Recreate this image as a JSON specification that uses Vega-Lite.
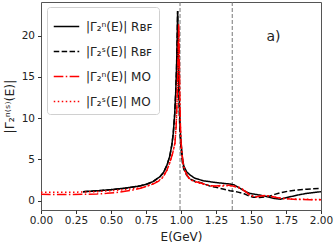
{
  "$schema": "https://vega.github.io/schema/vega-lite/v6.json",
  "width": 280,
  "height": 208,
  "autosize": {"type": "none"},
  "padding": {"left": 41, "top": 2, "right": 13, "bottom": 32},
  "config": {
    "font": "DejaVu Sans",
    "view": {"stroke": "#555", "strokeWidth": 1},
    "axis": {"grid": false, "domain": false, "tickColor": "#333", "tickSize": 3.5, "labelColor": "#222", "titleColor": "#222", "labelFontSize": 10.5, "titleFontSize": 12, "titleFontWeight": "normal", "labelFont": "DejaVu Sans", "titleFont": "DejaVu Sans"}
  },
  "datasets": {
    "curves": [
      {"E":0.30,"v":1.07,"s":"nR"},{"E":0.40,"v":1.18,"s":"nR"},{"E":0.50,"v":1.32,"s":"nR"},{"E":0.60,"v":1.50,"s":"nR"},{"E":0.70,"v":1.75,"s":"nR"},{"E":0.75,"v":1.95,"s":"nR"},{"E":0.80,"v":2.3,"s":"nR"},{"E":0.85,"v":2.9,"s":"nR"},{"E":0.875,"v":3.4,"s":"nR"},{"E":0.90,"v":4.3,"s":"nR"},{"E":0.92,"v":5.4,"s":"nR"},{"E":0.935,"v":6.8,"s":"nR"},{"E":0.945,"v":8.2,"s":"nR"},{"E":0.955,"v":10.5,"s":"nR"},{"E":0.962,"v":13,"s":"nR"},{"E":0.968,"v":16,"s":"nR"},{"E":0.972,"v":19,"s":"nR"},{"E":0.976,"v":23.0,"s":"nR"},{"E":0.980,"v":19,"s":"nR"},{"E":0.985,"v":14,"s":"nR"},{"E":0.990,"v":10.5,"s":"nR"},{"E":0.995,"v":8.5,"s":"nR"},{"E":1.000,"v":7.2,"s":"nR"},{"E":1.010,"v":5.2,"s":"nR"},{"E":1.020,"v":4.2,"s":"nR"},{"E":1.040,"v":3.5,"s":"nR"},{"E":1.064,"v":3.1,"s":"nR"},{"E":1.10,"v":2.7,"s":"nR"},{"E":1.16,"v":2.4,"s":"nR"},{"E":1.25,"v":2.18,"s":"nR"},{"E":1.35,"v":2.0,"s":"nR"},{"E":1.38,"v":1.9,"s":"nR"},{"E":1.42,"v":1.5,"s":"nR"},{"E":1.46,"v":1.1,"s":"nR"},{"E":1.49,"v":0.87,"s":"nR"},{"E":1.56,"v":0.67,"s":"nR"},{"E":1.62,"v":0.45,"s":"nR"},{"E":1.66,"v":0.27,"s":"nR"},{"E":1.71,"v":0.15,"s":"nR"},{"E":1.78,"v":0.46,"s":"nR"},{"E":1.85,"v":0.72,"s":"nR"},{"E":1.90,"v":0.87,"s":"nR"},{"E":1.95,"v":0.98,"s":"nR"},{"E":2.00,"v":1.07,"s":"nR"},

      {"E":0.30,"v":1.07,"s":"sR"},{"E":0.40,"v":1.18,"s":"sR"},{"E":0.50,"v":1.32,"s":"sR"},{"E":0.60,"v":1.50,"s":"sR"},{"E":0.70,"v":1.75,"s":"sR"},{"E":0.75,"v":1.95,"s":"sR"},{"E":0.80,"v":2.3,"s":"sR"},{"E":0.85,"v":2.9,"s":"sR"},{"E":0.875,"v":3.4,"s":"sR"},{"E":0.90,"v":4.3,"s":"sR"},{"E":0.92,"v":5.4,"s":"sR"},{"E":0.935,"v":6.8,"s":"sR"},{"E":0.945,"v":8.2,"s":"sR"},{"E":0.955,"v":10.5,"s":"sR"},{"E":0.962,"v":13,"s":"sR"},{"E":0.968,"v":16,"s":"sR"},{"E":0.972,"v":19,"s":"sR"},{"E":0.976,"v":23.0,"s":"sR"},{"E":0.980,"v":18,"s":"sR"},{"E":0.985,"v":13,"s":"sR"},{"E":0.990,"v":9.5,"s":"sR"},{"E":0.995,"v":7.5,"s":"sR"},{"E":1.000,"v":6.3,"s":"sR"},{"E":1.010,"v":4.6,"s":"sR"},{"E":1.020,"v":3.8,"s":"sR"},{"E":1.029,"v":3.5,"s":"sR"},{"E":1.040,"v":3.1,"s":"sR"},{"E":1.064,"v":2.6,"s":"sR"},{"E":1.10,"v":2.35,"s":"sR"},{"E":1.136,"v":2.2,"s":"sR"},{"E":1.207,"v":1.75,"s":"sR"},{"E":1.25,"v":1.6,"s":"sR"},{"E":1.30,"v":1.4,"s":"sR"},{"E":1.35,"v":1.2,"s":"sR"},{"E":1.40,"v":1.05,"s":"sR"},{"E":1.445,"v":0.87,"s":"sR"},{"E":1.48,"v":0.6,"s":"sR"},{"E":1.516,"v":0.39,"s":"sR"},{"E":1.56,"v":0.38,"s":"sR"},{"E":1.60,"v":0.45,"s":"sR"},{"E":1.636,"v":0.55,"s":"sR"},{"E":1.67,"v":0.75,"s":"sR"},{"E":1.71,"v":0.95,"s":"sR"},{"E":1.77,"v":1.15,"s":"sR"},{"E":1.83,"v":1.27,"s":"sR"},{"E":1.90,"v":1.38,"s":"sR"},{"E":2.00,"v":1.48,"s":"sR"},

      {"E":0.00,"v":0.75,"s":"nM"},{"E":0.10,"v":0.74,"s":"nM"},{"E":0.20,"v":0.73,"s":"nM"},{"E":0.30,"v":0.75,"s":"nM"},{"E":0.40,"v":0.80,"s":"nM"},{"E":0.47,"v":0.87,"s":"nM"},{"E":0.55,"v":1.0,"s":"nM"},{"E":0.60,"v":1.12,"s":"nM"},{"E":0.65,"v":1.25,"s":"nM"},{"E":0.71,"v":1.48,"s":"nM"},{"E":0.75,"v":1.7,"s":"nM"},{"E":0.80,"v":2.0,"s":"nM"},{"E":0.84,"v":2.35,"s":"nM"},{"E":0.87,"v":2.8,"s":"nM"},{"E":0.90,"v":3.7,"s":"nM"},{"E":0.92,"v":4.6,"s":"nM"},{"E":0.94,"v":5.7,"s":"nM"},{"E":0.957,"v":7,"s":"nM"},{"E":0.965,"v":9,"s":"nM"},{"E":0.970,"v":11,"s":"nM"},{"E":0.975,"v":14,"s":"nM"},{"E":0.980,"v":18,"s":"nM"},{"E":0.984,"v":21.5,"s":"nM"},{"E":0.988,"v":17,"s":"nM"},{"E":0.992,"v":12,"s":"nM"},{"E":0.996,"v":9,"s":"nM"},{"E":1.000,"v":7.2,"s":"nM"},{"E":1.005,"v":6.0,"s":"nM"},{"E":1.015,"v":4.5,"s":"nM"},{"E":1.029,"v":3.6,"s":"nM"},{"E":1.045,"v":3.0,"s":"nM"},{"E":1.064,"v":2.6,"s":"nM"},{"E":1.10,"v":2.3,"s":"nM"},{"E":1.136,"v":2.15,"s":"nM"},{"E":1.207,"v":1.8,"s":"nM"},{"E":1.25,"v":1.75,"s":"nM"},{"E":1.30,"v":1.85,"s":"nM"},{"E":1.34,"v":1.85,"s":"nM"},{"E":1.37,"v":1.75,"s":"nM"},{"E":1.41,"v":1.55,"s":"nM"},{"E":1.445,"v":1.27,"s":"nM"},{"E":1.47,"v":0.95,"s":"nM"},{"E":1.49,"v":0.67,"s":"nM"},{"E":1.52,"v":0.5,"s":"nM"},{"E":1.54,"v":0.46,"s":"nM"},{"E":1.58,"v":0.58,"s":"nM"},{"E":1.61,"v":0.62,"s":"nM"},{"E":1.65,"v":0.5,"s":"nM"},{"E":1.68,"v":0.38,"s":"nM"},{"E":1.73,"v":0.25,"s":"nM"},{"E":1.78,"v":0.18,"s":"nM"},{"E":1.85,"v":0.12,"s":"nM"},{"E":1.92,"v":0.1,"s":"nM"},{"E":2.00,"v":0.08,"s":"nM"},

      {"E":0.00,"v":1.0,"s":"sM"},{"E":0.10,"v":1.0,"s":"sM"},{"E":0.20,"v":1.0,"s":"sM"},{"E":0.30,"v":1.03,"s":"sM"},{"E":0.40,"v":1.08,"s":"sM"},{"E":0.50,"v":1.2,"s":"sM"},{"E":0.60,"v":1.33,"s":"sM"},{"E":0.71,"v":1.55,"s":"sM"},{"E":0.75,"v":1.72,"s":"sM"},{"E":0.80,"v":2.05,"s":"sM"},{"E":0.84,"v":2.4,"s":"sM"},{"E":0.87,"v":2.85,"s":"sM"},{"E":0.90,"v":3.7,"s":"sM"},{"E":0.92,"v":4.6,"s":"sM"},{"E":0.94,"v":5.7,"s":"sM"},{"E":0.957,"v":7,"s":"sM"},{"E":0.965,"v":9,"s":"sM"},{"E":0.970,"v":11,"s":"sM"},{"E":0.975,"v":14,"s":"sM"},{"E":0.980,"v":18,"s":"sM"},{"E":0.984,"v":21.0,"s":"sM"},{"E":0.988,"v":16.5,"s":"sM"},{"E":0.992,"v":11.5,"s":"sM"},{"E":0.996,"v":8.8,"s":"sM"},{"E":1.000,"v":7.0,"s":"sM"},{"E":1.005,"v":5.9,"s":"sM"},{"E":1.015,"v":4.4,"s":"sM"},{"E":1.029,"v":3.5,"s":"sM"},{"E":1.045,"v":2.95,"s":"sM"},{"E":1.064,"v":2.55,"s":"sM"},{"E":1.10,"v":2.25,"s":"sM"},{"E":1.136,"v":2.1,"s":"sM"},{"E":1.207,"v":1.78,"s":"sM"},{"E":1.25,"v":1.7,"s":"sM"},{"E":1.30,"v":1.75,"s":"sM"},{"E":1.34,"v":1.8,"s":"sM"},{"E":1.37,"v":1.8,"s":"sM"},{"E":1.41,"v":1.65,"s":"sM"},{"E":1.445,"v":1.35,"s":"sM"},{"E":1.47,"v":1.0,"s":"sM"},{"E":1.49,"v":0.7,"s":"sM"},{"E":1.52,"v":0.48,"s":"sM"},{"E":1.54,"v":0.44,"s":"sM"},{"E":1.58,"v":0.55,"s":"sM"},{"E":1.61,"v":0.58,"s":"sM"},{"E":1.65,"v":0.47,"s":"sM"},{"E":1.68,"v":0.36,"s":"sM"},{"E":1.73,"v":0.24,"s":"sM"},{"E":1.78,"v":0.2,"s":"sM"},{"E":1.85,"v":0.16,"s":"sM"},{"E":1.92,"v":0.14,"s":"sM"},{"E":2.00,"v":0.13,"s":"sM"}
    ]
  },
  "encoding": {
    "x": {"field": "E", "type": "quantitative", "scale": {"domain": [0, 2], "nice": false, "zero": false},
          "axis": {"tickCount": 20, "values": [0, 0.25, 0.5, 0.75, 1, 1.25, 1.5, 1.75, 2], "format": ".2f", "title": "E(GeV)", "labelPadding": 2, "titlePadding": 5, "labelOverlap": false, "labelFlush": false, "labelBound": false}},
    "y": {"field": "v", "type": "quantitative", "scale": {"domain": [-1.15, 24.1], "nice": false, "zero": false},
          "axis": {"tickCount": 20, "values": [0, 5, 10, 15, 20], "title": "|Γ₂ⁿ⁽ˢ⁾(E)|", "titleFontSize": 12.5, "labelPadding": 3, "titlePadding": 5}}
  },
  "layer": [
    {
      "data": {"values": [{"E": 0.993}, {"E": 1.366}]},
      "mark": {"type": "rule", "color": "#777", "strokeDash": [4, 2], "strokeWidth": 1},
      "encoding": {"y": {"value": 0}, "y2": {"value": 208}}
    },
    {
      "data": {"name": "curves"},
      "mark": {"type": "line", "strokeWidth": 1.5, "clip": true},
      "encoding": {
        "color": {"field": "s", "type": "nominal",
                  "scale": {"domain": ["nR", "sR", "nM", "sM"], "range": ["#000000", "#000000", "#ff0000", "#ff0000"]},
                  "legend": {"title": null, "orient": "none", "legendX": 6, "legendY": 5, "labelExpr": "{'nR':'|Γ₂ⁿ(E)| Rʙꜰ','sR':'|Γ₂ˢ(E)| Rʙꜰ','nM':'|Γ₂ⁿ(E)| MO','sM':'|Γ₂ˢ(E)| MO'}[datum.value]",
                             "symbolType": "stroke", "symbolSize": 650, "symbolStrokeWidth": 1.5, "labelFontSize": 12, "labelColor": "#222",
                             "rowPadding": 5, "padding": 6, "strokeColor": "#d0d0d0", "fillColor": "white", "cornerRadius": 3, "labelOffset": 6}},
        "strokeDash": {"field": "s", "type": "nominal",
                       "scale": {"domain": ["nR", "sR", "nM", "sM"], "range": [[1, 0], [5.5, 2.4], [9.6, 2.4, 1.5, 2.4], [1.5, 2.5]]},
                       "legend": {"title": null, "orient": "none", "legendX": 6, "legendY": 5}}
      }
    },
    {
      "data": {"values": [{"E": 1.66, "v": 19.8, "t": "a)"}]},
      "mark": {"type": "text", "fontSize": 14, "color": "#222", "align": "center", "baseline": "middle"},
      "encoding": {"text": {"field": "t"}}
    }
  ]
}
